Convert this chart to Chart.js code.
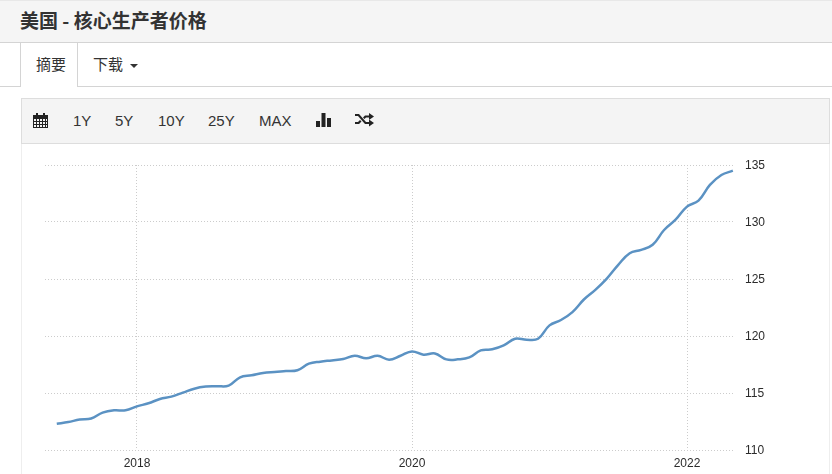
<!DOCTYPE html>
<html lang="zh">
<head>
<meta charset="utf-8">
<title>美国 - 核心生产者价格</title>
<script src="https://cdn.jsdelivr.net/npm/chart.js@4/dist/chart.umd.min.js"></script>
<style>
    html, body { margin: 0; padding: 0; background: #fff; overflow: hidden; }
    body { width: 832px; height: 474px; position: relative; font-family: "Liberation Sans", "Noto Sans CJK SC", sans-serif; color: #333; }
    .cabecera { position: absolute; left: 0; top: 0; width: 832px; height: 43px; box-sizing: border-box; background: #f5f5f5; border-top: 1px solid #e8e8e8; border-bottom: 1px solid #d4d4d4; }
    .cabecera h1 { position: absolute; left: 20px; top: 6px; margin: 0; font: bold 19px/26px "Noto Sans CJK SC", sans-serif; color: #333; }
    .pestanas { position: absolute; left: 0; top: 43px; width: 832px; height: 44px; box-sizing: border-box; border-bottom: 1px solid #d4d4d4; font: 15px/41px "Noto Sans CJK SC", sans-serif; }
    .activa { position: absolute; left: 20px; top: 0; width: 58px; height: 44px; box-sizing: border-box; padding-left: 15px; background: #fff; border-left: 1px solid #d4d4d4; border-right: 1px solid #d4d4d4; }
    .descarga { position: absolute; left: 93px; top: 0; }
    .caret { position: absolute; left: 130px; top: 21px; width: 0; height: 0; border-left: 4px solid transparent; border-right: 4px solid transparent; border-top: 4px solid #333; }
    .barra { position: absolute; left: 21px; top: 98px; width: 809px; height: 46px; box-sizing: border-box; background: #f4f4f4; border: 1px solid #ddd; }
    .barra span { position: absolute; top: 13px; font: 15px/18px "Liberation Sans", sans-serif; color: #333; }
    .barra svg { position: absolute; fill: #222; }
    .panel { position: absolute; left: 21px; top: 144px; width: 809px; height: 330px; box-sizing: border-box; border-left: 1px solid #eee; border-right: 1px solid #eee; }
    #grafica { position: absolute; left: 0; top: 0; }
</style>
</head>
<body>
<div class="cabecera"><h1>美国 - 核心生产者价格</h1></div>
<div class="pestanas">
    <div class="activa">摘要</div>
    <div class="descarga">下载</div>
    <div class="caret"></div>
</div>
<div class="barra">
    <svg style="left:11px;top:14px" width="15" height="15" viewBox="0 0 15 15"><path d="M0 2h3V0h2v2h5V0h2v2h3v13H0zM1 6v2h2V6zm3 0v2h2V6zm3 0v2h2V6zm3 0v2h2V6zm3 0v2h1V6zM1 9v2h2V9zm3 0v2h2V9zm3 0v2h2V9zm3 0v2h2V9zm3 0v2h1V9zM1 12v2h2v-2zm3 0v2h2v-2zm3 0v2h2v-2zm3 0v2h2v-2zm3 0v2h1v-2z"/></svg>
    <span style="left:51px">1Y</span>
    <span style="left:93px">5Y</span>
    <span style="left:136px">10Y</span>
    <span style="left:186px">25Y</span>
    <span style="left:237px">MAX</span>
    <svg style="left:294px;top:13px" width="15" height="15" viewBox="0 0 15 15"><path d="M0 9h4v6H0zM5.500 1h4v14h-4zM11 6h4v9h-4z"/></svg>
    <svg style="left:333px;top:13px" width="19" height="15" viewBox="0 0 19 15"><path d="M0 2h4l7 8h3V7.500l5 3.500-5 3.500V12h-4L3 4H0zM0 10h3l2-2 1.500 1.500L4 12H0zM10 3.500h4V1l5 3.500L14 8V5.500h-3L9.500 7 8 5.500z"/></svg>
</div>
<div class="panel"><canvas id="grafica" width="807" height="330"></canvas></div>

<script>
const fechas = [
    '2017-06','2017-07','2017-08','2017-09','2017-10','2017-11','2017-12',
    '2018-01','2018-02','2018-03','2018-04','2018-05','2018-06','2018-07','2018-08','2018-09','2018-10','2018-11','2018-12',
    '2019-01','2019-02','2019-03','2019-04','2019-05','2019-06','2019-07','2019-08','2019-09','2019-10','2019-11','2019-12',
    '2020-01','2020-02','2020-03','2020-04','2020-05','2020-06','2020-07','2020-08','2020-09','2020-10','2020-11','2020-12',
    '2021-01','2021-02','2021-03','2021-04','2021-05','2021-06','2021-07','2021-08','2021-09','2021-10','2021-11','2021-12',
    '2022-01','2022-02','2022-03','2022-04','2022-05'
];
const valores = [
    112.3, 112.45, 112.67, 112.76, 113.28, 113.48, 113.48,
    113.83, 114.1, 114.47, 114.68, 115.03, 115.38, 115.56, 115.59, 115.65, 116.38, 116.55, 116.76,
    116.85, 116.92, 117.0, 117.57, 117.75, 117.86, 117.98, 118.27, 118.04, 118.27, 117.92, 118.27,
    118.65, 118.36, 118.47, 117.95, 117.95, 118.12, 118.74, 118.83, 119.17, 119.76, 119.67, 119.76,
    120.93, 121.4, 122.1, 123.2, 124.05, 125.04, 126.24, 127.26, 127.55, 128.0, 129.3, 130.2,
    131.35, 131.87, 133.25, 134.12, 134.5
];
const anosEje = [2018, 2020, 2022];
const ticksY = [110, 115, 120, 125, 130, 135];

function fechaADecimal(fecha) {
    const [ano, mes] = fecha.split('-').map(Number);
    return ano + (mes - 1) / 12;
}

const puntos = fechas.map((f, i) => ({ x: fechaADecimal(f), y: valores[i] }));
const fuenteEjes = { family: '"Liberation Sans", sans-serif', size: 12 };

new Chart(document.getElementById('grafica').getContext('2d'), {
    type: 'line',
    data: {
        datasets: [{
            data: puntos,
            borderColor: '#5b92c3',
            borderWidth: 2.5,
            pointRadius: 0,
            tension: 0.4,
            fill: false
        }]
    },
    options: {
        responsive: false,
        animation: false,
        layout: { padding: { left: 23, top: 21, right: 0, bottom: 0 } },
        plugins: { legend: { display: false }, tooltip: { enabled: false } },
        scales: {
            x: {
                type: 'linear',
                min: 2017.331,
                max: 2022.349,
                afterBuildTicks: axis => { axis.ticks = anosEje.map(value => ({ value })); },
                afterFit: axis => { axis.height = 24; },
                ticks: { color: '#2b2b2b', font: fuenteEjes, padding: 6, maxRotation: 0, callback: v => String(v) },
                grid: { color: '#ccc', lineWidth: 1, tickLength: 0 },
                border: { display: false, dash: [1, 2] }
            },
            y: {
                position: 'right',
                min: 110,
                max: 135,
                afterBuildTicks: axis => { axis.ticks = ticksY.map(value => ({ value })); },
                afterFit: axis => { axis.width = 94; },
                ticks: { color: '#2b2b2b', font: fuenteEjes, padding: 10, labelOffset: 1, callback: v => String(v) },
                grid: { color: '#ccc', lineWidth: 1, tickLength: 0 },
                border: { display: false, dash: [1, 2] }
            }
        }
    }
});
</script>
</body>
</html>
